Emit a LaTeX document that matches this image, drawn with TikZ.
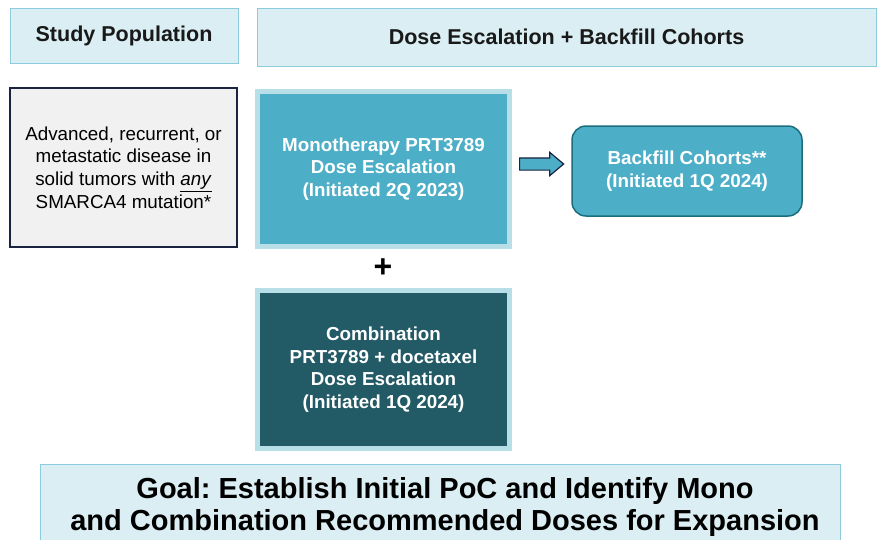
\documentclass[tikz,border=0pt]{standalone}
\usepackage{fontspec}
\setmainfont{Liberation Sans}
\usetikzlibrary{shapes.arrows}
\frenchspacing

\definecolor{headfill}{HTML}{DAEEF3}
\definecolor{headline}{HTML}{8DCCDC}
\definecolor{popfill}{HTML}{F1F1F1}
\definecolor{popline}{HTML}{1A2340}
\definecolor{aqua}{HTML}{4DAEC7}
\definecolor{aquarim}{HTML}{B8DEE8}
\definecolor{aquadark}{HTML}{225A66}
\definecolor{backline}{HTML}{1B6E7E}

\tikzset{
  headbox/.style={draw=headline, line width=1pt, fill=headfill, inner sep=0pt,
    font=\bfseries\fontsize{21.5}{26}\selectfont, text=black!90},
  bodytext/.style={align=center, inner sep=0pt,
    font=\fontsize{18.8}{22.6}\selectfont},
  popbox/.style={bodytext, draw=popline, line width=1.5pt, fill=popfill},
  escbox/.style={bodytext, font=\bfseries\fontsize{18.8}{22.6}\selectfont,
    text=white, draw=aquarim, line width=5pt},
  backbox/.style={escbox, draw=backline, line width=1.5pt, fill=aqua,
    rounded corners=14pt},
  blockarrow/.style={single arrow, draw=popline, line width=1.2pt, fill=aqua,
    inner xsep=0pt, inner ysep=5.5pt, minimum height=44pt,
    single arrow head extend=5.5pt, single arrow tip angle=80}
}

\begin{document}
\begin{tikzpicture}[x=1pt, y=-1pt]
  \clip (0,0) rectangle (877,539);

  \node[headbox, minimum width=228pt, minimum height=55pt] (pophead) at (124,35.5) {Study Population};
  \node[headbox, minimum width=619pt, minimum height=58pt] (eschead) at (566.5,37) {Dose Escalation + Backfill Cohorts};

  \node[popbox, minimum width=227pt, minimum height=159pt] (pop) at (123.5,167.5)
    {Advanced, recurrent, or\\ metastatic disease in\\ solid tumors with \underline{\textit{any}}\\ SMARCA4 mutation*};

  \node[escbox, fill=aqua, minimum width=252pt, minimum height=155pt] (mono) at (383.5,169)
    {Monotherapy PRT3789\\ Dose Escalation\\ (Initiated 2Q 2023)};

  \node[font=\bfseries\fontsize{32}{32}\selectfont, inner sep=0pt] (plus) at (383,268) {+};

  \node[escbox, fill=aquadark, minimum width=252pt, minimum height=158pt] (combo) at (383.5,369.5)
    {Combination\\ PRT3789 + docetaxel\\ Dose Escalation\\ (Initiated 1Q 2024)};

  \node[blockarrow] (arr) at (538,164) {};

  \node[backbox, minimum width=230pt, minimum height=90pt] (back) at (687,171)
    {Backfill Cohorts**\\ (Initiated 1Q 2024)};

  \node[headbox, minimum width=800pt, minimum height=86pt] (goal) at (440,507) {};
  \node[align=center, inner sep=0pt, font=\bfseries\fontsize{29}{32}\selectfont,
    text=black] (goaltext) at (445,507)
    {Goal: Establish Initial PoC and Identify Mono\\ and Combination Recommended Doses for Expansion};
\end{tikzpicture}
\end{document}
